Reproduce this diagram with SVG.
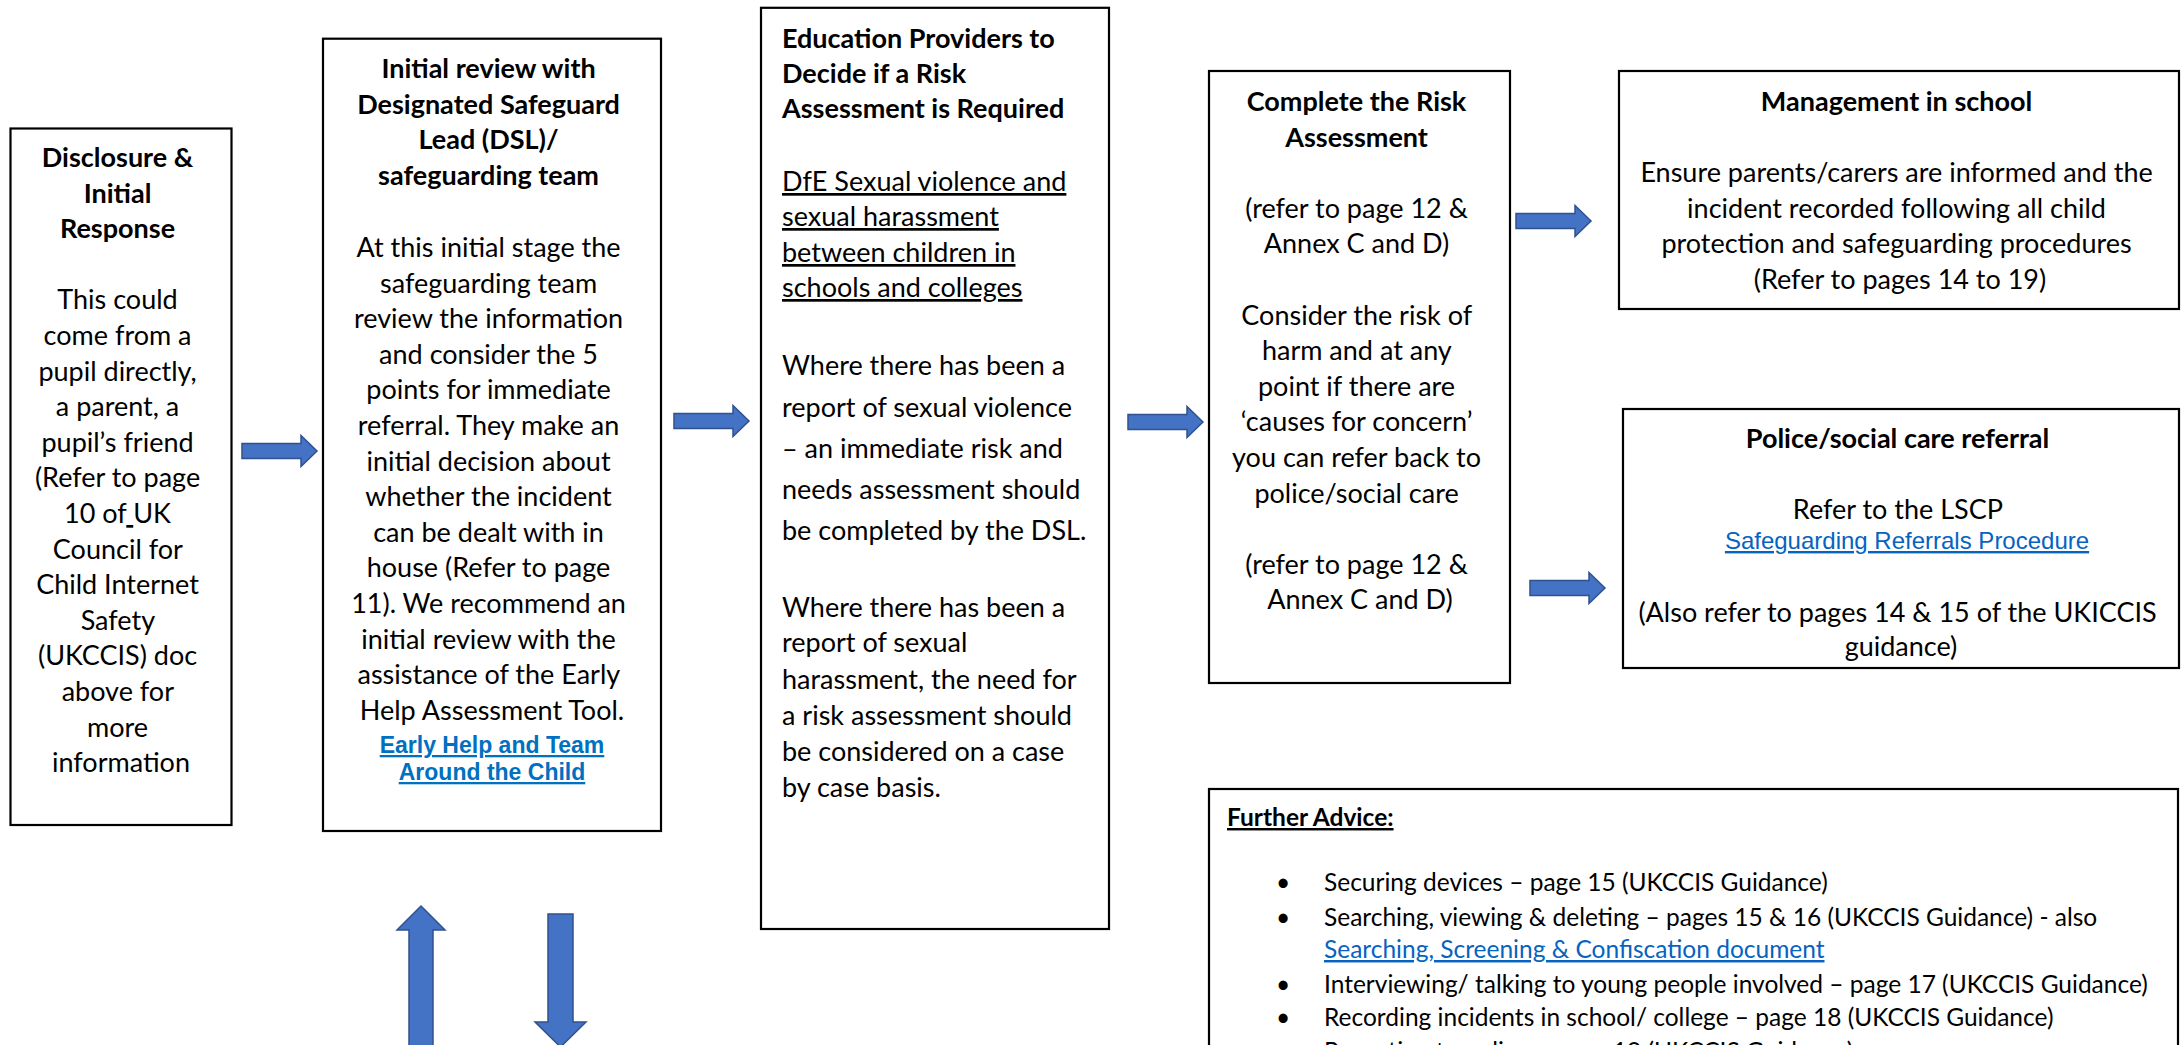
<svg xmlns="http://www.w3.org/2000/svg" width="2183" height="1045" viewBox="0 0 2183 1045">
<style>
.box{fill:#fff;stroke:#000;stroke-width:2.2}
.t{font-family:Lato,'Open Sans','Noto Sans',sans-serif;font-size:27px;fill:#000}
.b{font-weight:700}
.c{text-anchor:middle}
.u{text-decoration:underline}
.s{font-size:24.5px}
.lnk{font-family:'Liberation Sans',Arial,sans-serif;fill:#0563C1;text-decoration:underline}
.lnk2{font-family:'Liberation Sans',Arial,sans-serif;font-weight:700;font-size:23px;fill:#0070C0;text-decoration:underline}
.ar{fill:#4472C4;stroke:#2F528F;stroke-width:1.5}
</style>
<defs>
<path id="harr" d="M0,-7.5 H59 V-15.5 L75,0 L59,15.5 V7.5 H0 Z"/>
</defs>
<rect width="2183" height="1045" fill="#fff"/>

<g id="connectors">
<use href="#harr" class="ar" transform="translate(242,451)"/>
<use href="#harr" class="ar" transform="translate(674,421)"/>
<use href="#harr" class="ar" transform="translate(1128,422)"/>
<use href="#harr" class="ar" transform="translate(1516,221)"/>
<use href="#harr" class="ar" transform="translate(1530,588)"/>
<path class="ar" d="M421,906 L445,930 H433 V1050 H409 V930 H397 Z"/>
<path class="ar" d="M548,914 H573 V1022 H586 L560.5,1047 L535,1022 H548 Z"/>
</g>

<g id="disclosure">
<rect class="box" x="10.5" y="128.5" width="221" height="696.5"/>
<text class="t c" x="121">
<tspan class="b" x="121" y="167">Disclosure &amp;</tspan>
<tspan class="b" x="121" y="203">Initial</tspan>
<tspan class="b" x="121" y="238">Response</tspan>
<tspan x="121" y="309">This could</tspan>
<tspan x="121" y="345">come from a</tspan>
<tspan x="121" y="381">pupil directly,</tspan>
<tspan x="121" y="416">a parent, a</tspan>
<tspan x="121" y="452">pupil’s friend</tspan>
<tspan x="121" y="487">(Refer to page</tspan>
<tspan x="121" y="523">10 of<tspan class="u"> </tspan>UK</tspan>
<tspan x="121" y="559">Council for</tspan>
<tspan x="121" y="594">Child Internet</tspan>
<tspan x="121" y="630">Safety</tspan>
<tspan x="121" y="665">(UKCCIS) doc</tspan>
<tspan x="121" y="701">above for</tspan>
<tspan x="121" y="737">more</tspan>
<tspan x="121" y="772">information</tspan>
</text>
</g>

<g id="initial-review">
<rect class="box" x="323" y="38.7" width="338" height="792.3"/>
<text class="t c">
<tspan class="b" x="492" y="78">Initial review with</tspan>
<tspan class="b" x="492" y="114">Designated Safeguard</tspan>
<tspan class="b" x="492" y="149">Lead (DSL)/</tspan>
<tspan class="b" x="492" y="185">safeguarding team</tspan>
<tspan x="492" y="257">At this initial stage the</tspan>
<tspan x="492" y="293">safeguarding team</tspan>
<tspan x="492" y="328">review the information</tspan>
<tspan x="492" y="364">and consider the 5</tspan>
<tspan x="492" y="399">points for immediate</tspan>
<tspan x="492" y="435">referral. They make an</tspan>
<tspan x="492" y="471">initial decision about</tspan>
<tspan x="492" y="506">whether the incident</tspan>
<tspan x="492" y="542">can be dealt with in</tspan>
<tspan x="492" y="577">house (Refer to page</tspan>
<tspan x="492" y="613">11). We recommend an</tspan>
<tspan x="492" y="649">initial review with the</tspan>
<tspan x="492" y="684">assistance of the Early</tspan>
<tspan x="492" y="720">Help Assessment Tool.</tspan>
</text>
<text class="lnk2 c"><tspan x="492" y="753">Early Help and Team</tspan><tspan x="492" y="780">Around the Child</tspan></text>
</g>

<g id="education-providers">
<rect class="box" x="761" y="7.8" width="348" height="921.2"/>
<text class="t">
<tspan class="b" x="782" y="48">Education Providers to</tspan>
<tspan class="b" x="782" y="83">Decide if a Risk</tspan>
<tspan class="b" x="782" y="118">Assessment is Required</tspan>
<tspan class="u" x="782" y="191">DfE Sexual violence and</tspan>
<tspan class="u" x="782" y="226">sexual harassment</tspan>
<tspan class="u" x="782" y="262">between children in</tspan>
<tspan class="u" x="782" y="297">schools and colleges</tspan>
<tspan x="782" y="375">Where there has been a</tspan>
<tspan x="782" y="417">report of sexual violence</tspan>
<tspan x="782" y="458">– an immediate risk and</tspan>
<tspan x="782" y="499">needs assessment should</tspan>
<tspan x="782" y="540">be completed by the DSL.</tspan>
<tspan x="782" y="617">Where there has been a</tspan>
<tspan x="782" y="652">report of sexual</tspan>
<tspan x="782" y="689">harassment, the need for</tspan>
<tspan x="782" y="725">a risk assessment should</tspan>
<tspan x="782" y="761">be considered on a case</tspan>
<tspan x="782" y="797">by case basis.</tspan>
</text>
</g>

<g id="complete-risk-assessment">
<rect class="box" x="1209" y="71" width="301" height="612"/>
<text class="t c">
<tspan class="b" x="1360" y="111">Complete the Risk</tspan>
<tspan class="b" x="1360" y="147">Assessment</tspan>
<tspan x="1360" y="218">(refer to page 12 &amp;</tspan>
<tspan x="1360" y="253">Annex C and D)</tspan>
<tspan x="1360" y="325">Consider the risk of</tspan>
<tspan x="1360" y="360">harm and at any</tspan>
<tspan x="1360" y="396">point if there are</tspan>
<tspan x="1360" y="431">‘causes for concern’</tspan>
<tspan x="1360" y="467">you can refer back to</tspan>
<tspan x="1360" y="503">police/social care</tspan>
<tspan x="1360" y="574">(refer to page 12 &amp;</tspan>
<tspan x="1360" y="609">Annex C and D)</tspan>
</text>
</g>

<g id="management-in-school">
<rect class="box" x="1619" y="71" width="560" height="238"/>
<text class="t c">
<tspan class="b" x="1900" y="111">Management in school</tspan>
<tspan x="1900" y="182">Ensure parents/carers are informed and the</tspan>
<tspan x="1900" y="218">incident recorded following all child</tspan>
<tspan x="1900" y="253">protection and safeguarding procedures</tspan>
<tspan x="1900" y="289">(Refer to pages 14 to 19)</tspan>
</text>
</g>

<g id="police-referral">
<rect class="box" x="1623" y="409" width="556" height="259"/>
<text class="t c">
<tspan class="b" x="1901" y="448">Police/social care referral</tspan>
<tspan x="1901" y="519">Refer to the LSCP</tspan>
<tspan x="1901" y="622">(Also refer to pages 14 &amp; 15 of the UKICCIS</tspan>
<tspan x="1901" y="656">guidance)</tspan>
</text>
<text class="lnk c" x="1907" y="549" font-size="24">Safeguarding Referrals Procedure</text>
</g>

<g id="further-advice">
<rect class="box" x="1209" y="789" width="969" height="300"/>
<text class="t s b u" x="1227" y="826">Further Advice:</text>
<g class="t s">
<text x="1283" y="891" class="c">•</text><text x="1324" y="891">Securing devices – page 15 (UKCCIS Guidance)</text>
<text x="1283" y="926" class="c">•</text><text x="1324" y="926">Searching, viewing &amp; deleting – pages 15 &amp; 16 (UKCCIS Guidance) - also</text>
<text x="1324" y="958" fill="#0563C1" text-decoration="underline">Searching, Screening &amp; Confiscation document</text>
<text x="1283" y="993" class="c">•</text><text x="1324" y="993">Interviewing/ talking to young people involved – page 17 (UKCCIS Guidance)</text>
<text x="1283" y="1026" class="c">•</text><text x="1324" y="1026">Recording incidents in school/ college – page 18 (UKCCIS Guidance)</text>
<text x="1283" y="1060" class="c">•</text><text x="1324" y="1060">Reporting to police – page 19 (UKCCIS Guidance)</text>
</g>
</g>
</svg>
